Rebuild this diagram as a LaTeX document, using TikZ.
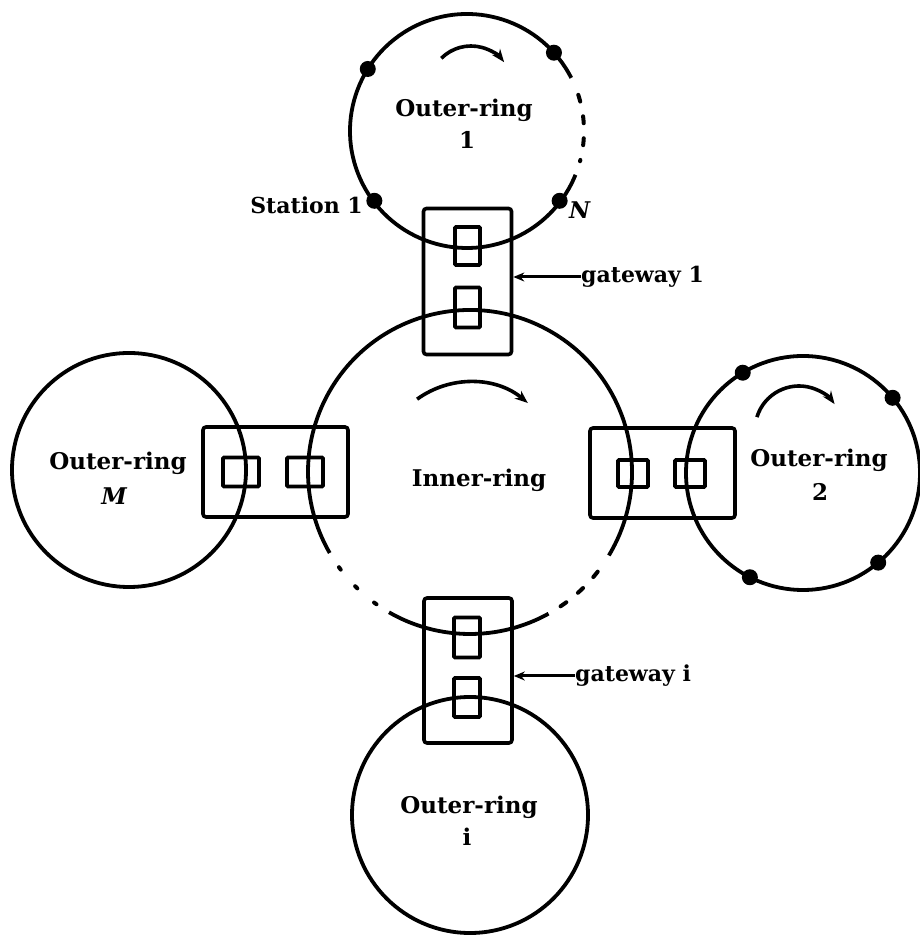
\documentclass[tikz,border=0pt]{standalone}
\usepackage{fontspec}
\setmainfont{DejaVu Serif}
\usetikzlibrary{arrows.meta}
\begin{document}
\begin{tikzpicture}[x=1pt,y=1pt,
  ring/.style={line width=3.8pt},
  gatebox/.style={draw,line width=3.6pt,rounded corners=3pt,inner sep=0pt},
  portbox/.style={draw,line width=3.6pt,inner sep=0pt,rounded corners=1pt},
  station/.style={circle,fill=black,inner sep=0pt,minimum size=16pt},
  lbl/.style={font=\fontsize{23}{26}\selectfont\bfseries,inner sep=0pt},
  smalllbl/.style={font=\fontsize{22}{25}\selectfont\bfseries,inner sep=0pt},
  flow/.style={line width=3.6pt,-{Stealth[length=13pt,width=10pt]}},
  pointer/.style={line width=3pt,-{Stealth[length=11pt,width=9pt]}},
  gapdots/.style={line width=4pt,line cap=round,dash pattern=on 3pt off 22pt},
  gapdash/.style={line width=4pt,line cap=round,dash pattern=on 7pt off 15pt}]
\useasboundingbox (0,0) rectangle (920,939);

% ring centres
\coordinate (ci) at (470,467);
\coordinate (c1) at (467,808);
\coordinate (c2) at (803,466);
\coordinate (cm) at (129,469);
\coordinate (cb) at (470,124);

% inner ring: solid, with a dotted gap lower left and a dashed gap lower right
\draw[ring] ([shift={(-31:162)}]ci) arc[start angle=-31,end angle=210,radius=162];
\draw[ring] ([shift={(240:162)}]ci) arc[start angle=240,end angle=299,radius=162];
\draw[gapdots] ([shift={(216:162)}]ci) arc[start angle=216,end angle=238,radius=162];
\draw[gapdash] ([shift={(304:162)}]ci) arc[start angle=304,end angle=327,radius=162];

% outer ring 1 with its broken stretch on the right
\draw[ring] ([shift={(27:117)}]c1) arc[start angle=27,end angle=338,radius=117];
\draw[gapdash] ([shift={(18:117)}]c1) arc[start angle=18,end angle=-15,radius=117];

% outer rings 2, M and i
\draw[ring] (c2) circle[radius=117];
\draw[ring] (cm) circle[radius=117];
\draw[ring] (cb) circle[radius=118];

% direction of circulation
\draw[flow] ([shift={(126:90)}]ci) arc[start angle=126,end angle=50,radius=90];
\draw[flow] ([shift={(135:42)}]471,851) arc[start angle=135,end angle=38,radius=42];
\draw[flow] ([shift={(163:44)}]799,509) arc[start angle=163,end angle=36,radius=44];

% stations on outer ring 1
\node[station] (s1) at ([shift={(217:116)}]c1) {};
\node[station] (s2) at ([shift={(148:117)}]c1) {};
\node[station] (s3) at ([shift={(42:117)}]c1) {};
\node[station] (sN) at ([shift={(323:116)}]c1) {};
% stations on outer ring 2
\node[station] (t1) at ([shift={(121:117)}]c2) {};
\node[station] (t2) at ([shift={(40:117)}]c2) {};
\node[station] (t3) at ([shift={(243:117)}]c2) {};
\node[station] (t4) at ([shift={(310:117)}]c2) {};

% gateways with their two ports
\node[gatebox,minimum width=88pt,minimum height=146pt] (g1) at (467.5,657.5) {};
\node[portbox,minimum width=25pt,minimum height=38pt] (g1a) at (467.5,693) {};
\node[portbox,minimum width=25pt,minimum height=40pt] (g1b) at (467.5,631.5) {};

\node[gatebox,minimum width=88pt,minimum height=145pt] (gi) at (468,268.5) {};
\node[portbox,minimum width=26pt,minimum height=40pt] (gia) at (467,301.5) {};
\node[portbox,minimum width=26pt,minimum height=39pt] (gib) at (467,241.5) {};

\node[gatebox,minimum width=145pt,minimum height=90pt] (g2) at (662.5,466) {};
\node[portbox,minimum width=30pt,minimum height=27pt] (g2a) at (633,465.5) {};
\node[portbox,minimum width=30pt,minimum height=27pt] (g2b) at (690,465.5) {};

\node[gatebox,minimum width=145pt,minimum height=90pt] (gm) at (275.5,467) {};
\node[portbox,minimum width=36pt,minimum height=29pt] (gma) at (241,467) {};
\node[portbox,minimum width=36pt,minimum height=29pt] (gmb) at (305,467) {};

% ring names
\node[lbl] (n1) at (464,829) {Outer-ring};
\node[lbl] (n1b) at (467,799) {1};
\node[lbl] (nm) at (118,476) {Outer-ring};
\node[lbl] (nmb) at (114,443) {\itshape M};
\node[lbl] (n2) at (819,479) {Outer-ring};
\node[lbl] (n2b) at (820,447) {2};
\node[lbl] (ni) at (469,132) {Outer-ring};
\node[lbl] (nib) at (467,102) {i};
\node[lbl] (nin) at (479,459) {Inner-ring};

% station and gateway labels
\node[smalllbl,anchor=east] (ls1) at (363,734) {Station 1};
\node[lbl,anchor=west] (lsN) at (569,729) {\itshape N};
\node[smalllbl,anchor=west] (lg1) at (581,662) {gateway 1};
\node[smalllbl,anchor=west] (lgi) at (575,263) {gateway i};
\draw[pointer] (lg1.west) -- (g1.east |- lg1.west);
\draw[pointer] (lgi.west) -- (gi.east |- lgi.west);
\end{tikzpicture}
\end{document}
